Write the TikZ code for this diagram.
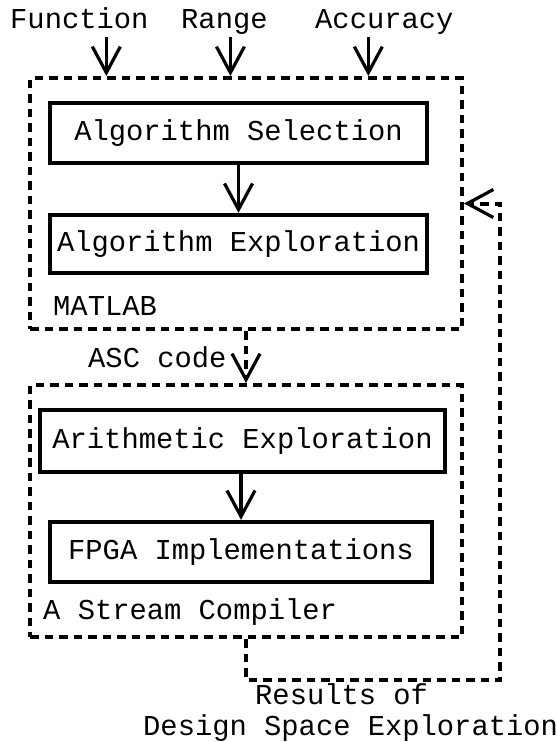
\documentclass[tikz,border=0pt]{standalone}
\usepackage{fontspec}
\setmonofont{Liberation Mono}
\usetikzlibrary{arrows.meta,positioning}
\tikzset{
  flow/.style={-{Straight Barb[length=26pt,width=28pt,line width=3.2pt]},black,line width=3.2pt},
  flowdash/.style={flow,dash pattern=on 8.5pt off 6pt,line width=4pt},
  stage/.style={draw=black,line width=4.3pt,minimum width=377pt,minimum height=60pt,
                inner sep=0pt,font=\ttfamily\fontsize{28.8}{32}\selectfont},
  tool/.style={draw=black,line width=4pt,dash pattern=on 8.5pt off 6pt,
               minimum width=432pt,inner sep=0pt},
  label/.style={font=\ttfamily\fontsize{28.8}{32}\selectfont,inner sep=0pt,anchor=base west},
}
\begin{document}
\begin{tikzpicture}[x=1pt,y=-1pt]
  \useasboundingbox (0,0) rectangle (557,742);

  % inputs
  \node[label] (fn)  at (10,28)  {Function};
  \node[label] (rng) at (181,28) {Range};
  \node[label] (acc) at (315,28) {Accuracy};

  % MATLAB part
  \node[tool,minimum height=251pt] (matlab) at (246,203.5) {};
  \node[stage] (sel)  at (238.5,133) {Algorithm Selection};
  \node[stage,minimum height=58pt] (expl) at (238.5,244) {Algorithm Exploration};
  \node[label] (mlab) at (53,315) {MATLAB};

  % ASC part
  \node[tool,minimum height=252pt] (asc) at (246,511) {};
  \node[stage,minimum width=405pt,minimum height=62pt] (arith) at (242.5,441) {Arithmetic Exploration};
  \node[stage,minimum width=382pt] (fpga) at (241,552) {FPGA Implementations};
  \node[label] (asclab) at (43,619) {A Stream Compiler};

  \node[label] (code) at (88,367) {ASC code};
  \node[label] (res)  at (255,704) {Results of};
  \node[label] (dse)  at (143,735) {Design Space Exploration};
  \coordinate (fb) at (500,680);

  \draw[flow] ([xshift=27pt,yshift=-9pt]fn.base) -- ([xshift=27pt]fn.base |- matlab.north);
  \draw[flow] ([xshift=6pt,yshift=-9pt]rng.base) -- ([xshift=6pt]rng.base |- matlab.north);
  \draw[flow] ([xshift=-16pt,yshift=-9pt]acc.base) -- ([xshift=-16pt]acc.base |- matlab.north);
  \draw[flow] (sel) -- (expl);
  \draw[flow] (arith.south -| fpga) -- (fpga);
  \draw[flowdash] (matlab) -- (asc);
  \draw[flowdash] (asc.south) |- (fb) |- (matlab.east);
\end{tikzpicture}
\end{document}
